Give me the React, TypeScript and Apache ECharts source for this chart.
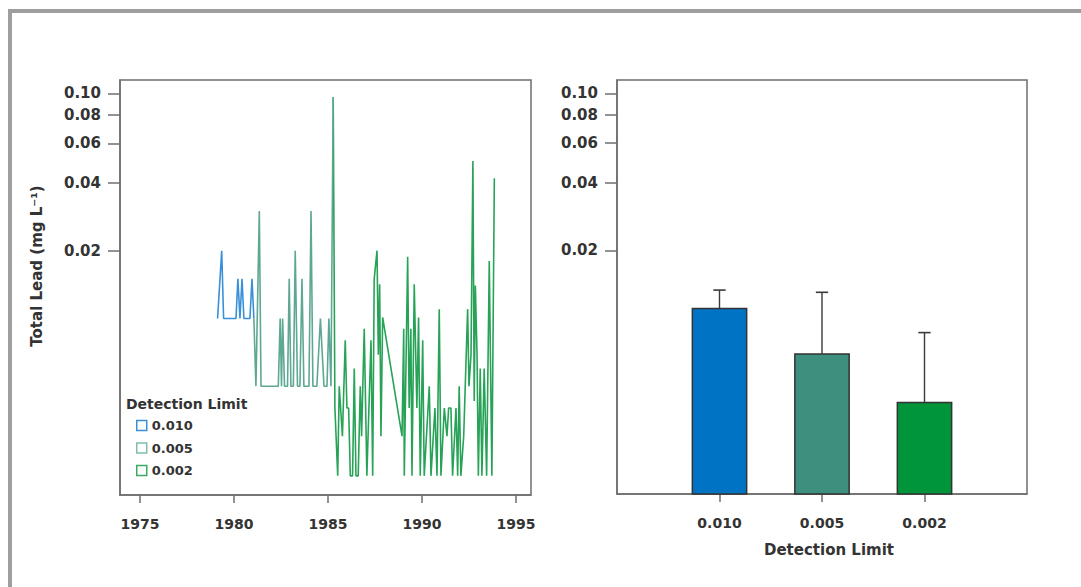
import React, { useEffect, useRef } from "react";
import * as echarts from "echarts";

// ---- Left panel: time series of total lead by detection-limit period ----
const blueYears = [1979.13, 1979.35, 1979.45, 1980.11, 1980.21, 1980.32, 1980.43, 1980.53, 1980.85, 1980.96, 1981.06];
const blueValues = [0.01, 0.02, 0.01, 0.01, 0.015, 0.01, 0.015, 0.01, 0.01, 0.015, 0.01];

const tealYears = [1981.17, 1981.35, 1981.44, 1982.36, 1982.46, 1982.53, 1982.59, 1982.69, 1982.85, 1982.94, 1983.03, 1983.16, 1983.26, 1983.38, 1983.51, 1983.62, 1983.72, 1983.99, 1984.1, 1984.2, 1984.41, 1984.6, 1984.79, 1984.95, 1985.05, 1985.16, 1985.28];
const tealValues = [0.005, 0.03, 0.005, 0.005, 0.01, 0.005, 0.01, 0.005, 0.005, 0.015, 0.005, 0.005, 0.02, 0.005, 0.005, 0.015, 0.005, 0.005, 0.03, 0.005, 0.005, 0.01, 0.005, 0.005, 0.01, 0.005, 0.096];

const greenYears = [1985.37, 1985.52, 1985.6, 1985.77, 1985.92, 1986.01, 1986.1, 1986.19, 1986.31, 1986.4, 1986.49, 1986.61, 1986.72, 1986.79, 1986.93, 1987.07, 1987.29, 1987.38, 1987.46, 1987.61, 1987.68, 1987.75, 1987.82, 1987.91, 1988.94, 1989.03, 1989.06, 1989.24, 1989.32, 1989.41, 1989.47, 1989.59, 1989.73, 1989.82, 1989.91, 1990.04, 1990.12, 1990.39, 1990.48, 1990.69, 1990.8, 1990.92, 1991.01, 1991.19, 1991.33, 1991.42, 1991.54, 1991.63, 1991.81, 1991.9, 1991.98, 1992.07, 1992.22, 1992.43, 1992.5, 1992.61, 1992.71, 1992.78, 1992.84, 1992.93, 1993.0, 1993.1, 1993.19, 1993.31, 1993.44, 1993.58, 1993.72, 1993.85];
const greenValues = [0.004, 0.002, 0.005, 0.003, 0.008, 0.004, 0.004, 0.002, 0.002, 0.006, 0.002, 0.002, 0.005, 0.003, 0.009, 0.002, 0.008, 0.002, 0.015, 0.02, 0.0069, 0.0142, 0.003, 0.0101, 0.003, 0.009, 0.002, 0.0188, 0.004, 0.009, 0.002, 0.0142, 0.004, 0.0101, 0.002, 0.008, 0.002, 0.005, 0.002, 0.004, 0.002, 0.011, 0.002, 0.004, 0.003, 0.004, 0.004, 0.002, 0.004, 0.002, 0.005, 0.002, 0.003, 0.011, 0.005, 0.0069, 0.05, 0.0043, 0.014, 0.0069, 0.002, 0.006, 0.002, 0.006, 0.002, 0.018, 0.002, 0.042];

const yearTicks = [1975, 1980, 1985, 1990, 1995];
const leadTicks = [0.02, 0.04, 0.06, 0.08, 0.1];

// ---- Right panel: mean total lead by detection limit ----
const limitLabels = ["0.010", "0.005", "0.002"];
const barMeans = [0.011, 0.0069, 0.0042];
const barErrTops = [0.0133, 0.013, 0.0086];

const seriesNames = ["0.010", "0.005", "0.002"];
const lineColors = ["#3a90d8", "#5ea793", "#27a257"];
const legendColors = ["#3a90d8", "#7fbfac", "#3aa962"];
const barColors = ["#0073c5", "#3f8f7f", "#00953b"];

const Y_MIN = 0.001644;
const Y_MAX = 0.1146;
const FONT = '"DejaVu Sans", "Liberation Sans", sans-serif';
const AXIS_COLOR = "#6e6e6e";
const TEXT_COLOR = "#333333";

function pairs(xs: number[], ys: number[]) {
  return xs.map((x, i) => [x, ys[i]]);
}

export default function App() {
  const ref = useRef<HTMLDivElement>(null);

  useEffect(() => {
    if (!ref.current) return;
    const chart = echarts.init(ref.current, undefined, { renderer: "svg" });

    const blueData = pairs(blueYears, blueValues);
    const tealData = [blueData[blueData.length - 1], ...pairs(tealYears, tealValues)];
    const tealPairs = pairs(tealYears, tealValues);
    const greenData = [tealPairs[tealPairs.length - 1], ...pairs(greenYears, greenValues)];

    const labelStyle = {
      color: TEXT_COLOR,
      fontFamily: FONT,
      fontWeight: "bold" as const,
      fontSize: 14,
    };
    const axisLine = { show: true, lineStyle: { color: AXIS_COLOR, width: 1.5 } };

    const yAxisCommon = (gridIndex: number) => ({
      type: "log" as const,
      gridIndex,
      min: Y_MIN,
      max: Y_MAX,
      axisLine,
      axisTick: { show: true, customValues: leadTicks, length: 12, lineStyle: { color: AXIS_COLOR, width: 1.5 } },
      minorTick: { show: false },
      axisLabel: {
        ...labelStyle,
        fontSize: 15,
        customValues: leadTicks,
        margin: 19,
        formatter: (v: number) => v.toFixed(2),
      },
      splitLine: { show: false },
    });

    const option: any = {
      animation: false,
      backgroundColor: "transparent",
      grid: [
        { left: 120, top: 80, width: 411, height: 415, show: true, borderColor: AXIS_COLOR, borderWidth: 1.5, backgroundColor: "transparent" },
        { left: 617, top: 80, width: 410, height: 414, show: true, borderColor: AXIS_COLOR, borderWidth: 1.5, backgroundColor: "transparent" },
      ],
      xAxis: [
        {
          type: "value",
          gridIndex: 0,
          min: 1973.94,
          max: 1995.8,
          axisLine,
          axisTick: { show: true, customValues: yearTicks, length: 8, lineStyle: { color: AXIS_COLOR, width: 1.5 } },
          axisLabel: { ...labelStyle, customValues: yearTicks, margin: 22, formatter: (v: number) => String(v) },
          splitLine: { show: false },
        },
        {
          type: "value",
          gridIndex: 1,
          min: 0,
          max: 4,
          axisLine,
          axisTick: { show: true, customValues: [1, 2, 3], length: 8, lineStyle: { color: AXIS_COLOR, width: 1.5 } },
          axisLabel: {
            ...labelStyle,
            customValues: [1, 2, 3],
            margin: 22,
            formatter: (v: number) => limitLabels[Math.round(v) - 1] ?? "",
          },
          splitLine: { show: false },
          name: "Detection Limit",
          nameLocation: "middle",
          nameGap: 48,
          nameTextStyle: { ...labelStyle, fontSize: 15, padding: [0, 0, 0, 14] },
        },
      ],
      yAxis: [yAxisCommon(0), yAxisCommon(1)],
      legend: {
        orient: "vertical",
        left: 136,
        top: 419,
        padding: 0,
        icon: "rect",
        itemWidth: 10,
        itemHeight: 10,
        itemGap: 9.5,
        textStyle: { color: TEXT_COLOR, fontFamily: FONT, fontWeight: "bold", fontSize: 13 },
        data: seriesNames.map((n, i) => ({
          name: n,
          icon: "rect",
          itemStyle: { color: "#ffffff", borderColor: legendColors[i], borderWidth: 1.5 },
        })),
      },
      graphic: [
        {
          type: "text",
          x: 37,
          y: 266,
          rotation: Math.PI / 2,
          style: {
            text: "Total Lead (mg L⁻¹)",
            fill: TEXT_COLOR,
            font: `bold 15px ${FONT}`,
            align: "center",
            verticalAlign: "middle",
          },
        },
        {
          type: "text",
          x: 126,
          y: 404,
          style: {
            text: "Detection Limit",
            fill: TEXT_COLOR,
            font: `bold 14px ${FONT}`,
            align: "left",
            verticalAlign: "middle",
          },
        },
      ],
      series: [
        ...[blueData, tealData, greenData].map((d, i) => ({
          type: "line",
          name: seriesNames[i],
          xAxisIndex: 0,
          yAxisIndex: 0,
          data: d,
          showSymbol: false,
          symbol: "none",
          lineStyle: { color: lineColors[i], width: 1.6 },
          itemStyle: { color: lineColors[i] },
          z: 3 - i,
        })),
        {
          type: "custom",
          name: "means",
          xAxisIndex: 1,
          yAxisIndex: 1,
          encode: { x: 0, y: 1 },
          data: limitLabels.map((_, i) => [i + 1, barMeans[i], barErrTops[i]]),
          renderItem: (params: any, api: any) => {
            const x = api.value(0);
            const v = api.value(1);
            const e = api.value(2);
            const half = 0.265;
            const cap = 0.06;
            const base = api.coord([x, Y_MIN]);
            const tl = api.coord([x - half, v]);
            const tr = api.coord([x + half, v]);
            const mid = api.coord([x, v]);
            const et = api.coord([x, e]);
            const cl = api.coord([x - cap, e]);
            const cr = api.coord([x + cap, e]);
            return {
              type: "group",
              children: [
                {
                  type: "line",
                  shape: { x1: mid[0], y1: mid[1], x2: et[0], y2: et[1] },
                  style: { stroke: "#3a3a3a", lineWidth: 1.4 },
                },
                {
                  type: "line",
                  shape: { x1: cl[0], y1: cl[1], x2: cr[0], y2: cr[1] },
                  style: { stroke: "#3a3a3a", lineWidth: 1.6 },
                },
                {
                  type: "rect",
                  shape: { x: tl[0], y: tl[1], width: tr[0] - tl[0], height: base[1] - tl[1] },
                  style: { fill: barColors[params.dataIndex], stroke: "#333333", lineWidth: 1.5 },
                },
              ],
            };
          },
        },
      ],
    };

    chart.setOption(option);
    return () => chart.dispose();
  }, []);

  return (
    <div style={{ position: "fixed", left: 0, top: 0, width: 1081, height: 587, background: "#ffffff" }}>
      <div
        style={{
          position: "absolute",
          left: 8,
          top: 9,
          width: 1090,
          height: 600,
          borderTop: "4px solid #9e9e9e",
          borderLeft: "4px solid #9e9e9e",
          boxSizing: "border-box",
        }}
      />
      <div ref={ref} style={{ position: "absolute", left: 0, top: 0, width: 1081, height: 587 }} />
    </div>
  );
}
